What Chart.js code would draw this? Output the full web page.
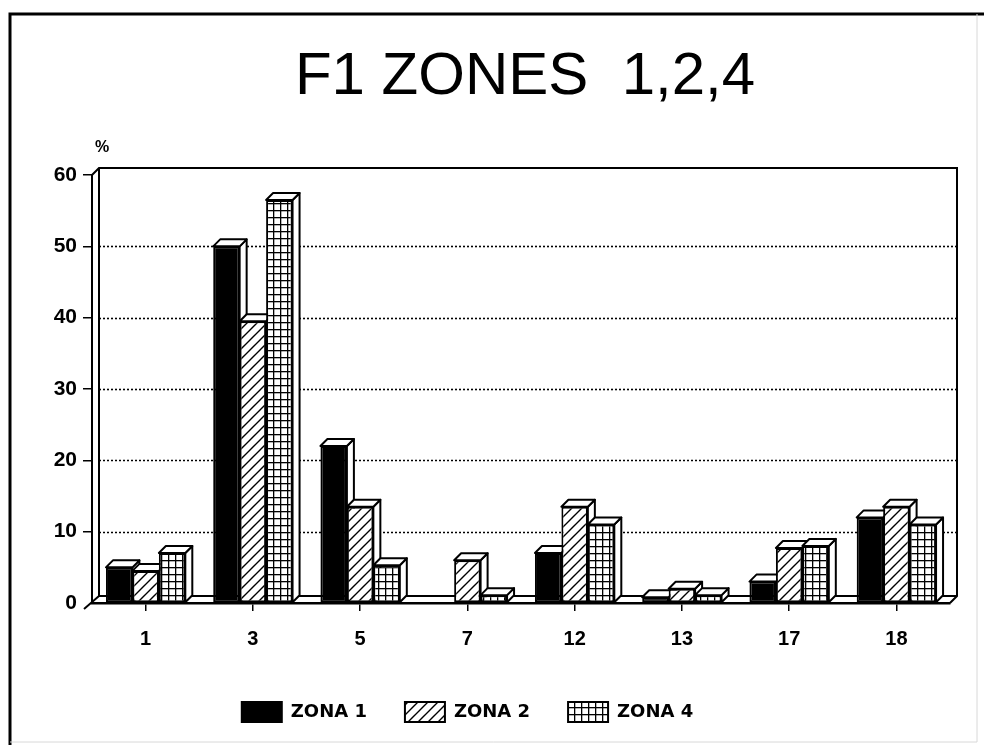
<!DOCTYPE html>
<html>
<head>
<meta charset="utf-8">
<title>F1 ZONES 1,2,4</title>
<script src="https://cdn.jsdelivr.net/npm/chart.js@4.4.1/dist/chart.umd.min.js"></script>
<style>
  html, body { margin: 0; padding: 0; background: #fff; }
  #wrap { width: 984px; height: 745px; }
</style>
</head>
<body>
<div id="wrap"><canvas id="zonesChart" width="984" height="745"></canvas></div>
<script>
// percentages per class, one array per zone
var categories = ['1', '3', '5', '7', '12', '13', '17', '18'];
var zona1 = [5, 50, 22, 0, 7, 0.8, 3, 12];
var zona2 = [4.5, 39.5, 13.5, 6, 13.5, 2, 7.7, 13.5];
var zona4 = [7, 56.5, 5.3, 1.1, 11, 1.1, 8, 11];
var yTicks = [0, 10, 20, 30, 40, 50, 60];
var gridValues = [10, 20, 30, 40, 50];
var titleText = 'F1 ZONES  1,2,4';

var depth = 7; // offset of the back wall / bar depth

var canvas = document.getElementById('zonesChart');
var ctx = canvas.getContext('2d');

function hatchPattern() {
  var c = document.createElement('canvas');
  c.width = 10; c.height = 10;
  var g = c.getContext('2d');
  g.fillStyle = '#fff';
  g.fillRect(0, 0, 10, 10);
  g.strokeStyle = '#000';
  g.lineWidth = 1.4;
  g.beginPath();
  g.moveTo(-1, 11); g.lineTo(11, -1);
  g.moveTo(-1, 1); g.lineTo(1, -1);
  g.moveTo(9, 11); g.lineTo(11, 9);
  g.stroke();
  return ctx.createPattern(c, 'repeat');
}

function gridPattern() {
  var c = document.createElement('canvas');
  c.width = 7; c.height = 7;
  var g = c.getContext('2d');
  g.fillStyle = '#fff';
  g.fillRect(0, 0, 7, 7);
  g.fillStyle = '#000';
  g.fillRect(0, 0, 7, 1.3);
  g.fillRect(0, 0, 1.3, 7);
  return ctx.createPattern(c, 'repeat');
}

// frame, 3D walls, dotted grid and extruded bars
var boxes3d = {
  id: 'boxes3d',
  beforeDraw: function(chart) {
    var c = chart.ctx;
    c.save();
    c.fillStyle = '#fff';
    c.fillRect(0, 0, chart.width, chart.height);
    c.strokeStyle = '#000';
    c.lineWidth = 3;
    c.beginPath();
    c.moveTo(10, 745); c.lineTo(10, 14); c.lineTo(984, 14);
    c.stroke();
    c.strokeStyle = '#d8d8d8';
    c.lineWidth = 1;
    c.beginPath();
    c.moveTo(977, 14); c.lineTo(977, 742); c.lineTo(10, 742);
    c.stroke();
    c.restore();
  },
  beforeDatasetsDraw: function(chart) {
    var a = chart.chartArea, c = chart.ctx, y = chart.scales.y;
    var L = a.left, R = a.right, T = a.top, B = a.bottom;
    c.save();
    c.strokeStyle = '#000';
    c.lineWidth = 1.6;
    c.setLineDash([2, 2]);
    gridValues.forEach(function(v) {
      var py = Math.round(y.getPixelForValue(v)) + 0.5;
      c.beginPath();
      c.moveTo(L + depth, py); c.lineTo(R + depth, py);
      c.stroke();
    });
    c.setLineDash([]);
    c.lineWidth = 2;
    c.beginPath();
    c.moveTo(L, T); c.lineTo(L + depth, T - depth);
    c.lineTo(R + depth, T - depth); c.lineTo(R + depth, B - depth);
    c.lineTo(R, B);
    c.moveTo(L + depth, T - depth); c.lineTo(L + depth, B - depth);
    c.lineTo(R + depth, B - depth);
    c.moveTo(L - 8, B + 6); c.lineTo(L + depth, B - depth);
    c.stroke();
    c.restore();
  },
  beforeDatasetDraw: function() {
    return false;
  },
  afterDatasetsDraw: function(chart) {
    var c = chart.ctx;
    chart.data.datasets.forEach(function(ds, i) {
      var meta = chart.getDatasetMeta(i);
      meta.data.forEach(function(bar) {
        var p = bar.getProps(['x', 'y', 'base', 'width'], true);
        var left = p.x - p.width / 2, right = p.x + p.width / 2;
        if (p.base - p.y < 0.5) return;
        c.save();
        c.strokeStyle = '#000';
        c.lineWidth = 2;
        c.lineJoin = 'round';
        c.fillStyle = '#fff';
        c.beginPath();
        c.moveTo(right, p.y); c.lineTo(right + depth, p.y - depth);
        c.lineTo(right + depth, p.base - depth); c.lineTo(right, p.base);
        c.closePath();
        c.fill(); c.stroke();
        c.beginPath();
        c.moveTo(left, p.y); c.lineTo(left + depth, p.y - depth);
        c.lineTo(right + depth, p.y - depth); c.lineTo(right, p.y);
        c.closePath();
        c.fill(); c.stroke();
        c.restore();
        bar.draw(c, chart.chartArea);
      });
    });
  },
  afterDraw: function(chart) {
    var c = chart.ctx;
    c.save();
    c.fillStyle = '#000';
    c.textAlign = 'center';
    c.textBaseline = 'alphabetic';
    c.font = '60px "Liberation Sans", Arial, sans-serif';
    c.fillText(titleText, 525, 94);
    c.font = 'bold 16px "Liberation Sans", Arial, sans-serif';
    c.fillText('%', 102, 152);
    c.restore();
  }
};

var barStyle = {
  borderColor: '#000',
  borderWidth: 2,
  borderSkipped: false,
  barPercentage: 1,
  categoryPercentage: 0.74
};

var myChart = new Chart(ctx, {
  type: 'bar',
  data: {
    labels: categories,
    datasets: [
      Object.assign({ label: 'ZONA 1', data: zona1, backgroundColor: '#000' }, barStyle),
      Object.assign({ label: 'ZONA 2', data: zona2, backgroundColor: hatchPattern() }, barStyle),
      Object.assign({ label: 'ZONA 4', data: zona4, backgroundColor: gridPattern() }, barStyle)
    ]
  },
  options: {
    responsive: false,
    animation: false,
    events: [],
    layout: { padding: { top: 175, left: -15, right: 34, bottom: 13 } },
    scales: {
      x: {
        grid: {
          offset: false,
          drawOnChartArea: false,
          drawTicks: true,
          tickLength: 8,
          color: '#000',
          lineWidth: 1.5
        },
        border: { display: true, color: '#000', width: 2.5 },
        ticks: {
          color: '#000',
          padding: 16,
          maxRotation: 0,
          font: { family: '"Liberation Sans", Arial, sans-serif', size: 20, weight: 'bold' }
        },
        afterFit: function(scale) { scale.height = 61; }
      },
      y: {
        min: 0,
        max: 60,
        afterBuildTicks: function(scale) {
          scale.ticks = yTicks.map(function(v) { return { value: v }; });
        },
        grid: {
          drawOnChartArea: false,
          drawTicks: true,
          tickLength: 9,
          lineWidth: 1.5,
          color: function(c) { return c.tick && c.tick.value === 0 ? 'rgba(0,0,0,0)' : '#000'; }
        },
        border: { display: true, color: '#000', width: 2 },
        ticks: {
          color: '#000',
          padding: 6,
          font: { family: '"Liberation Sans", Arial, sans-serif', size: 21, weight: 'bold' }
        },
        afterFit: function(scale) { scale.width = 107; }
      }
    },
    plugins: {
      title: { display: false },
      tooltip: { enabled: false },
      legend: {
        position: 'bottom',
        labels: {
          boxWidth: 40,
          boxHeight: 20,
          padding: 38,
          color: '#000',
          font: { family: '"DejaVu Sans", sans-serif', size: 18, weight: 'bold' }
        }
      }
    }
  },
  plugins: [boxes3d]
});
</script>
</body>
</html>
